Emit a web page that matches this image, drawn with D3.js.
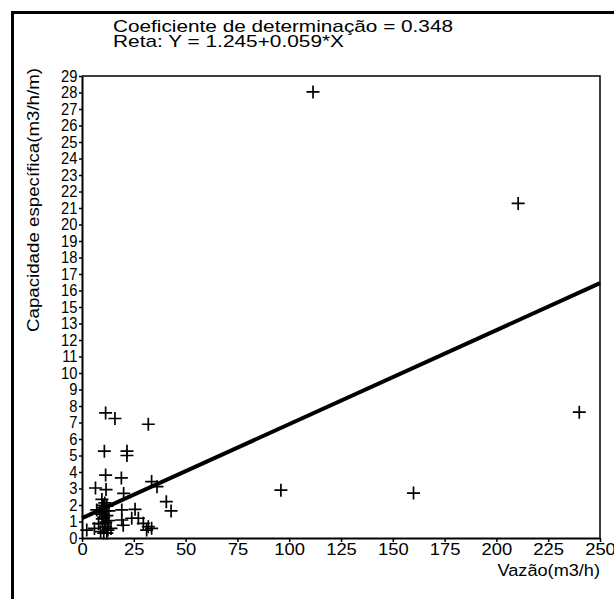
<!DOCTYPE html>
<html>
<head>
<meta charset="utf-8">
<script src="https://cdn.jsdelivr.net/npm/d3@7"></script>
<style>
  html, body { margin: 0; padding: 0; background: #fff; }
  svg { display: block; }
  text { font-family: "Liberation Sans", Arial, sans-serif; fill: #000; }
</style>
</head>
<body>
<svg id="chart" width="614" height="599"></svg>
<script>
// Flow rate (m3/h) and specific capacity (m3/h/m) of each well
const vazao = [
  111.5, 210.5, 240, 96, 160,
  11.4, 15.9, 32, 10.8, 21.7, 21.7, 11.4, 19, 33.6, 36.2, 6.5, 11.6, 20.1, 9.6, 40.7,
  43, 25.6, 19.2, 7.1, 2.3, 19.2, 19.9, 24, 27.2, 29.6, 32, 33.6, 31.2,
  8.5, 9.5, 10, 10.5, 11, 11.5, 12, 10, 11, 12.5, 9, 10.5, 13, 12, 11, 14, 6, 9.8, 13, 8, 12, 10.2
];
const capacidade = [
  28.0, 21.0, 7.9, 3.0, 2.82,
  7.85, 7.5, 7.14, 5.45, 5.45, 5.18, 3.95, 3.77, 3.54, 3.22, 3.14, 3.04, 2.8, 2.42, 2.28,
  1.7, 1.8, 1.76, 1.76, 0.5, 1.13, 0.8, 1.24, 1.24, 0.92, 0.71, 0.61, 0.5,
  1.6, 1.5, 1.9, 1.3, 1.7, 1.0, 1.4, 0.9, 0.7, 0.5, 0.4, 0.3, 1.1, 2.0, 2.2, 0.6, 0.6, 1.2, 1.7, 0.9, 0.3, 2.05
];

// Fitted line Y = a + b*X and its summary
const intercept = 1.245;
const slope = 0.059;
const r2 = 0.348;

// Axis tick labels
const xTicks = [0, 25, 50, 75, 100, 125, 150, 175, 200, 225, 250];
const yTickLabels = [29, 28, 27, 26, 25, 24, 23, 22, 21, 20, 19, 18, 17, 16, 15,
                     13, 12, 11, 10, 9, 8, 7, 6, 5, 4, 3, 2, 1, 0];

const svg = d3.select("#chart");
const plot = { left: 82, right: 600, top: 76, bottom: 538 };

const x = d3.scaleLinear().domain([0, 250]).range([plot.left, plot.right]);
const y = d3.scaleLinear().domain([0, 29]).range([plot.bottom, plot.top]);
// labels of the vertical axis are spread evenly along its length
const yLab = d3.scalePoint().domain(yTickLabels).range([plot.top, plot.bottom]);

// outer border
svg.append("rect")
  .attr("x", 12.5).attr("y", 12.5)
  .attr("width", 640).attr("height", 640)
  .attr("fill", "none").attr("stroke", "#000").attr("stroke-width", 3);

// header
const header = svg.append("g");
header.append("text")
  .attr("x", 113).attr("y", 31.5)
  .attr("font-size", 17)
  .attr("textLength", 340).attr("lengthAdjust", "spacingAndGlyphs")
  .text(`Coeficiente de determinação = ${r2}`);
header.append("text")
  .attr("x", 113).attr("y", 46.5)
  .attr("font-size", 17)
  .attr("textLength", 231).attr("lengthAdjust", "spacingAndGlyphs")
  .text(`Reta: Y = ${intercept}+${slope}*X`);

// plot frame (top and right)
svg.append("path")
  .attr("d", `M${plot.left},${plot.top}H${plot.right}V${plot.bottom}`)
  .attr("fill", "none").attr("stroke", "#000").attr("stroke-width", 1.5);

// x axis
const xAxis = svg.append("g")
  .attr("transform", `translate(0,${plot.bottom})`)
  .call(d3.axisBottom(x).tickValues(xTicks).tickSize(4).tickSizeOuter(0).tickPadding(2));
xAxis.select(".domain").attr("stroke-width", 2);
xAxis.selectAll(".tick line").attr("stroke-width", 1.5);
xAxis.selectAll(".tick text")
  .attr("font-size", 16).attr("font-family", null)
  .attr("transform", "scale(1.15,1)");

// y axis
const yAxis = svg.append("g")
  .attr("transform", `translate(${plot.left},0)`)
  .call(d3.axisLeft(yLab).tickSize(3).tickSizeOuter(0).tickPadding(2));
yAxis.select(".domain").attr("stroke-width", 2);
yAxis.selectAll(".tick line").attr("stroke-width", 1.5);
yAxis.selectAll(".tick text")
  .attr("font-size", 16).attr("font-family", null)
  .attr("transform", "scale(0.92,1)");

// axis titles
svg.append("text")
  .attr("x", plot.right).attr("y", 576)
  .attr("text-anchor", "end").attr("font-size", 16.5)
  .attr("transform", `translate(${plot.right},0) scale(1.1,1) translate(${-plot.right},0)`)
  .text("Vazão(m3/h)");
svg.append("text")
  .attr("transform", `translate(39,200) rotate(-90)`)
  .attr("text-anchor", "middle").attr("font-size", 16.5)
  .attr("textLength", 264).attr("lengthAdjust", "spacingAndGlyphs")
  .text("Capacidade específica(m3/h/m)");

// regression line
const fitX = [0, 250];
svg.append("path")
  .datum(fitX)
  .attr("d", d3.line().x(d => x(d)).y(d => y(intercept + slope * d)))
  .attr("fill", "none").attr("stroke", "#000").attr("stroke-width", 4);

// observations as crosses
const pts = vazao.map((v, i) => [v, capacidade[i]]);
svg.append("g").selectAll("path")
  .data(pts)
  .join("path")
  .attr("transform", d => `translate(${x(d[0])},${y(d[1])})`)
  .attr("d", "M-6.5,0H6.5M0,-6.5V6.5")
  .attr("fill", "none").attr("stroke", "#000").attr("stroke-width", 1.7);
</script>
</body>
</html>
